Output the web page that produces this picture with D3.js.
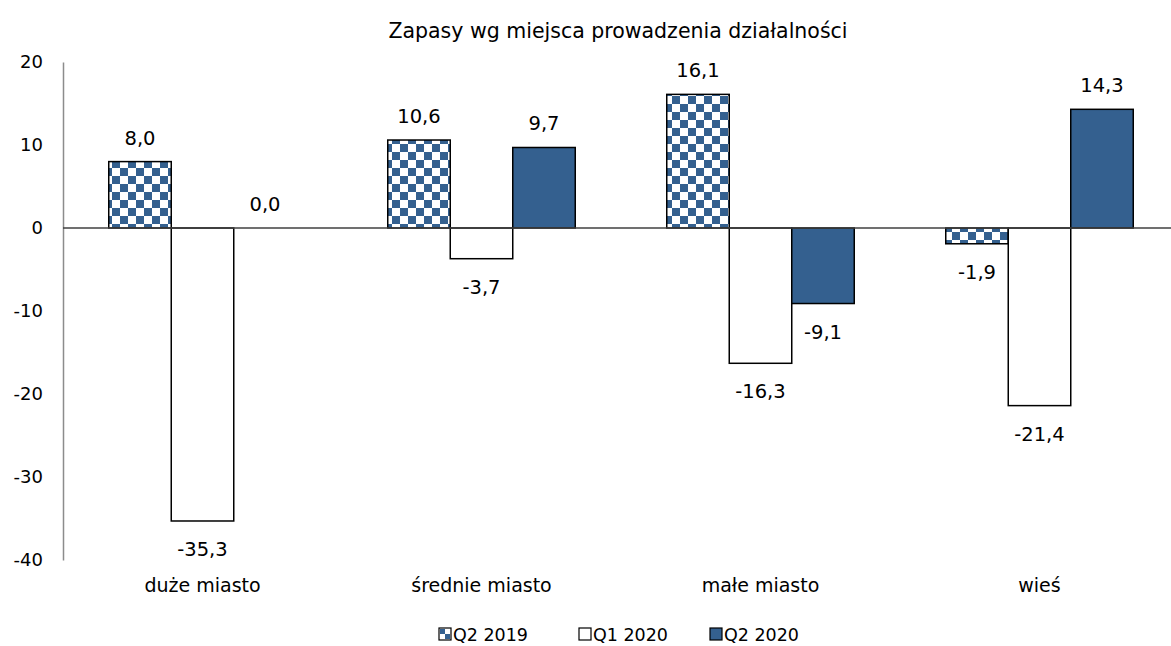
<!DOCTYPE html>
<html>
<head>
<meta charset="utf-8">
<script src="https://cdn.jsdelivr.net/npm/d3@7"></script>
<style>
  body { margin: 0; background: #fff; }
  svg text { fill: #000; font-family: 'DejaVu Sans', sans-serif; }
</style>
</head>
<body>
<script>
'use strict';

// chart data
const categories = ["duże miasto", "średnie miasto", "małe miasto", "wieś"];
const seriesNames = ["Q2 2019", "Q1 2020", "Q2 2020"];
const q2_2019 = [8.0, 10.6, 16.1, -1.9];
const q1_2020 = [-35.3, -3.7, -16.3, -21.4];
const q2_2020 = [0.0, 9.7, -9.1, 14.3];
const yTicks = [20, 10, 0, -10, -20, -30, -40];

const width = 1171, height = 646;
const blue = "#34608F";

const svg = d3.select("body").append("svg")
  .attr("width", width)
  .attr("height", height);

// checker pattern for Q2 2019
const defs = svg.append("defs");
const pat = defs.append("pattern")
  .attr("id", "checker")
  .attr("patternUnits", "userSpaceOnUse")
  .attr("width", 16).attr("height", 16);
pat.append("rect").attr("width", 16).attr("height", 16).attr("fill", "#fff");
pat.append("rect").attr("x", 0).attr("y", 0).attr("width", 8).attr("height", 8).attr("fill", blue);
pat.append("rect").attr("x", 8).attr("y", 8).attr("width", 8).attr("height", 8).attr("fill", blue);

const fills = ["url(#checker)", "#fff", blue];
const series = [q2_2019, q1_2020, q2_2020];

// scales
const x = d3.scaleBand()
  .domain(categories)
  .range([63, 1179])
  .paddingInner(0)
  .paddingOuter(0);

const xInner = d3.scaleBand()
  .domain(seriesNames)
  .range([0, x.bandwidth()])
  .paddingOuter(0.732)
  .paddingInner(0);

const y = d3.scaleLinear()
  .domain([-40, 20])
  .range([560, 62]);

// title
svg.append("text")
  .attr("x", 618)
  .attr("y", 38)
  .attr("text-anchor", "middle")
  .style("font-size", "20.5px")
  .text("Zapasy wg miejsca prowadzenia działalności");

// y axis
const yAxis = d3.axisLeft(y).tickValues(yTicks).tickSize(0).tickPadding(20)
  .tickFormat(d => String(d));
const gy = svg.append("g")
  .attr("transform", "translate(63,0)")
  .call(yAxis);
gy.select(".domain").attr("stroke", "#8c8c8c").attr("stroke-width", 1.5);
gy.selectAll("text")
  .style("font-family", "'DejaVu Sans', sans-serif")
  .style("font-size", "18px")
  .attr("fill", "#000");

// bars
const rows = [];
categories.forEach((c, i) => {
  seriesNames.forEach((s, j) => {
    rows.push({ cat: c, ser: s, idx: j, value: series[j][i] });
  });
});

svg.append("g").selectAll("rect")
  .data(rows)
  .enter()
  .append("rect")
  .attr("x", d => x(d.cat) + xInner(d.ser))
  .attr("y", d => y(Math.max(0, d.value)))
  .attr("width", xInner.bandwidth())
  .attr("height", d => Math.abs(y(d.value) - y(0)))
  .attr("fill", d => fills[d.idx])
  .attr("stroke", "#000")
  .attr("stroke-width", 1.5);

// zero line
svg.append("line")
  .attr("x1", 63).attr("x2", width)
  .attr("y1", y(0)).attr("y2", y(0))
  .attr("stroke", "#404040")
  .attr("stroke-width", 1.5);

// data labels
const fmt = v => v.toFixed(1).replace(".", ",");
svg.append("g").selectAll("text")
  .data(rows)
  .enter()
  .append("text")
  .attr("x", d => x(d.cat) + xInner(d.ser) + xInner.bandwidth() / 2)
  .attr("y", d => d.value >= 0 ? y(d.value) - 17 : y(d.value) + 35)
  .attr("text-anchor", "middle")
  .style("font-size", "19.5px")
  .text(d => fmt(d.value));

// category labels
svg.append("g").selectAll("text")
  .data(categories)
  .enter()
  .append("text")
  .attr("x", d => x(d) + x.bandwidth() / 2)
  .attr("y", 592)
  .attr("text-anchor", "middle")
  .style("font-size", "19px")
  .text(d => d);

// legend
const legendX = [439, 579, 710];
const legend = svg.append("g");
seriesNames.forEach((s, j) => {
  const lx = legendX[j], ly = 628;
  legend.append("rect")
    .attr("x", lx).attr("y", ly)
    .attr("width", 12).attr("height", 12)
    .attr("fill", j === 0 ? "#fff" : fills[j])
    .attr("stroke", "#000")
    .attr("stroke-width", 1.2);
  if (j === 0) {
    legend.append("rect").attr("x", lx + 1).attr("y", ly + 1)
      .attr("width", 5).attr("height", 5).attr("fill", blue);
    legend.append("rect").attr("x", lx + 6).attr("y", ly + 6)
      .attr("width", 5).attr("height", 5).attr("fill", blue);
  }
  legend.append("text")
    .attr("x", lx + 14)
    .attr("y", 641)
    .style("font-size", "17.5px")
    .text(s);
});
</script>
</body>
</html>
